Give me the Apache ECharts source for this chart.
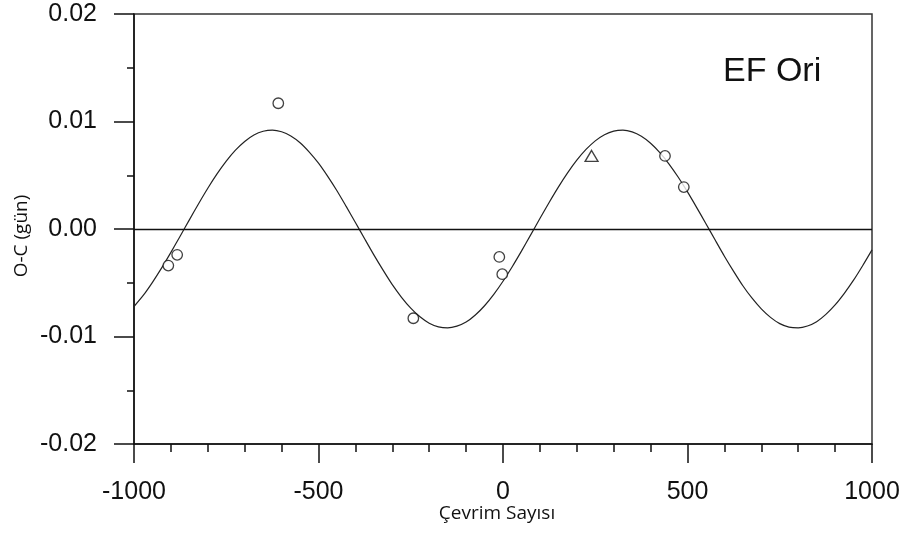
<!DOCTYPE html>
<html>
<head>
<meta charset="utf-8">
<title>EF Ori O-C</title>
<script src="https://cdn.jsdelivr.net/npm/echarts@6/dist/echarts.min.js"></script>
<style>
  html, body { margin: 0; padding: 0; background: #fff; }
  #chart { width: 909px; height: 533px; }
</style>
</head>
<body>
<div id="chart"></div>
<script>
// Observed minima (open circles)
const obsE  = [-907, -883, -609, -243, -10, -2, 439, 490];
const obsOC = [-0.0034, -0.0024, 0.0117, -0.0083, -0.0026, -0.0042, 0.0068, 0.0039];

// Observed minimum (triangle)
const triE  = [240];
const triOC = [0.0068];

// Fitted cyclic variation, sampled every 25 cycles
const fitE = [-1000, -975, -950, -925, -900, -875, -850, -825, -800, -775,
              -750, -725, -700, -675, -650, -625, -600, -575, -550, -525,
              -500, -475, -450, -425, -400, -375, -350, -325, -300, -275,
              -250, -225, -200, -175, -150, -125, -100, -75, -50, -25,
              0, 25, 50, 75, 100, 125, 150, 175, 200, 225,
              250, 275, 300, 325, 350, 375, 400, 425, 450, 475,
              500, 525, 550, 575, 600, 625, 650, 675, 700, 725,
              750, 775, 800, 825, 850, 875, 900, 925, 950, 975, 1000];
const fitOC = [-0.00721, -0.00618, -0.00496, -0.00362, -0.00217, -0.00067, 0.00085, 0.00235, 0.00379, 0.00512,
               0.00631, 0.00733, 0.00814, 0.00874, 0.00909, 0.00920, 0.00905, 0.00866, 0.00803, 0.00716,
               0.00613, 0.00490, 0.00356, 0.00210, 0.00061, -0.00091, -0.00241, -0.00383, -0.00518, -0.00635,
               -0.00736, -0.00817, -0.00876, -0.00910, -0.00920, -0.00904, -0.00866, -0.00800, -0.00714, -0.00608,
               -0.00486, -0.00351, -0.00206, -0.00055, 0.00097, 0.00247, 0.00390, 0.00522, 0.00640, 0.00740,
               0.00820, 0.00877, 0.00911, 0.00920, 0.00903, 0.00862, 0.00797, 0.00710, 0.00604, 0.00481,
               0.00345, 0.00199, 0.00049, -0.00103, -0.00253, -0.00394, -0.00528, -0.00644, -0.00743, -0.00822,
               -0.00880, -0.00912, -0.00919, -0.00902, -0.00862, -0.00794, -0.00706, -0.00598, -0.00476, -0.00339, -0.00194];

// Axis tick labels
const xTicks = [-1000, -500, 0, 500, 1000];
const yTicks = [-0.02, -0.01, 0.00, 0.01, 0.02];

const zip = (a, b) => a.map((v, i) => [v, b[i]]);

const chart = echarts.init(document.getElementById('chart'), null, { renderer: 'canvas' });

const tickFont = 'Liberation Sans, Arial, sans-serif';
const nameFont = '"Open Sans", "Noto Sans", sans-serif';

chart.setOption({
  animation: false,
  backgroundColor: '#fff',
  grid: {
    left: 134, top: 14, width: 738, height: 430,
    show: true, borderColor: '#333', borderWidth: 1.5, backgroundColor: 'transparent'
  },
  xAxis: {
    type: 'value',
    min: xTicks[0], max: xTicks[xTicks.length - 1], interval: 500,
    axisLine: { show: true, onZero: false, lineStyle: { color: '#111', width: 1.5 } },
    axisTick: { show: true, inside: false, length: 19, lineStyle: { color: '#111', width: 1.5 } },
    minorTick: { show: true, splitNumber: 5, length: 8, lineStyle: { color: '#111', width: 1.5 } },
    splitLine: { show: false },
    axisLabel: {
      margin: 36, color: '#111', fontFamily: tickFont, fontSize: 25,
      formatter: v => xTicks.includes(v) ? String(v) : ''
    }
  },
  yAxis: {
    type: 'value',
    min: yTicks[0], max: yTicks[yTicks.length - 1], interval: 0.01,
    axisLine: { show: true, onZero: false, lineStyle: { color: '#111', width: 1.5 } },
    axisTick: { show: true, inside: false, length: 20, lineStyle: { color: '#111', width: 1.5 } },
    minorTick: { show: true, splitNumber: 2, length: 7, lineStyle: { color: '#111', width: 1.5 } },
    splitLine: { show: false },
    axisLabel: {
      margin: 37, color: '#111', fontFamily: tickFont, fontSize: 25,
      formatter: v => v.toFixed(2)
    }
  },
  series: [
    {
      type: 'line',
      data: zip(fitE, fitOC),
      smooth: 0.25,
      showSymbol: false,
      silent: true,
      lineStyle: { color: '#222', width: 1.2 },
      markLine: {
        silent: true,
        symbol: 'none',
        label: { show: false },
        lineStyle: { color: '#111', width: 1.4, type: 'solid' },
        data: [{ yAxis: 0 }]
      },
      z: 2
    },
    {
      type: 'scatter',
      data: zip(obsE, obsOC),
      symbol: 'circle',
      symbolSize: 10.5,
      itemStyle: { color: '#fff', borderColor: '#111', borderWidth: 1.3 },
      z: 3
    },
    {
      type: 'scatter',
      data: zip(triE, triOC),
      symbol: 'triangle',
      symbolSize: [13, 11],
      itemStyle: { color: '#fff', borderColor: '#111', borderWidth: 1.3 },
      z: 3
    }
  ],
  graphic: [
    {
      type: 'text', left: 723, top: 55,
      style: { text: 'EF Ori', fill: '#111', font: '34px "Liberation Sans", Arial, sans-serif' }
    },
    {
      type: 'text', x: 497, y: 514,
      style: { text: 'Çevrim Sayısı', fill: '#111', font: '19px ' + nameFont, align: 'center', verticalAlign: 'middle' }
    },
    {
      type: 'text', x: 22, y: 236, rotation: Math.PI / 2,
      style: { text: 'O-C (gün)', fill: '#111', font: '19px ' + nameFont, align: 'center', verticalAlign: 'middle' }
    }
  ]
});
</script>
</body>
</html>
